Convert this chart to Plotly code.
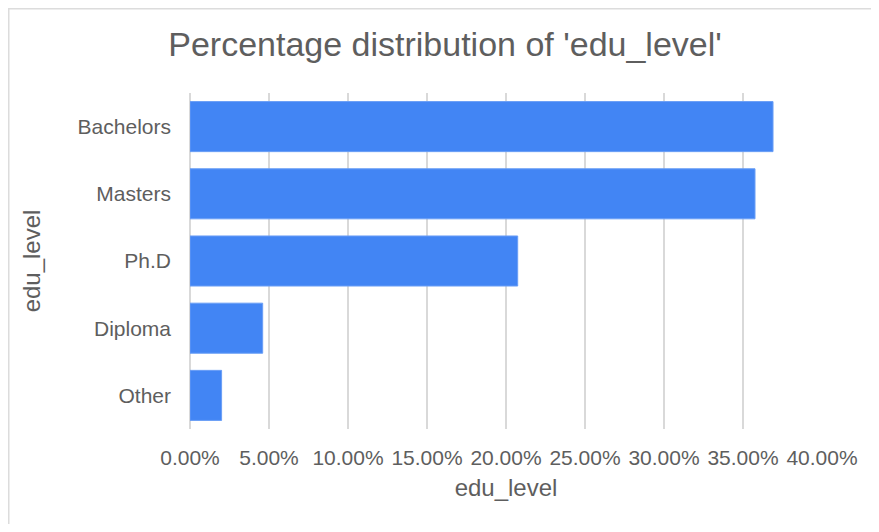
import plotly.graph_objects as go

categories = ["Bachelors", "Masters", "Ph.D", "Diploma", "Other"]
percentages = [0.369, 0.3576, 0.2074, 0.046, 0.020]
x_ticks = [0, 0.05, 0.10, 0.15, 0.20, 0.25, 0.30, 0.35, 0.40]

# page is offset by the browser's 8px body margin
OFF = 8
W, H = 879 - 2 * OFF, 532 - 2 * OFF
L, T = 190 - OFF, 93 - OFF
R = W - (822 - OFF)
B = H - (429 - OFF)
pw, ph = W - L - R, H - T - B

font_family = "Arial, Liberation Sans, sans-serif"
text_color = "#5e5e5e"

fig = go.Figure(
    go.Bar(
        x=percentages,
        y=categories,
        orientation="h",
        marker=dict(color="#4285F4", line=dict(color="#6a9ef6", width=1)),
        hoverinfo="x+y",
    )
)

fig.update_layout(
    width=W,
    height=H,
    margin=dict(l=L, r=R, t=T, b=B, pad=0),
    paper_bgcolor="white",
    plot_bgcolor="white",
    bargap=0.255,
    showlegend=False,
    font=dict(family=font_family, color=text_color, size=21),
    title=dict(
        text="Percentage distribution of 'edu_level'",
        x=(445 - OFF) / W,
        xanchor="center",
        y=1 - (44.5 - OFF) / H,
        yanchor="middle",
        font=dict(size=34, color=text_color, family=font_family),
    ),
    xaxis=dict(
        range=[0, 0.4],
        tickvals=x_ticks,
        tickformat=".2%",
        showgrid=True,
        gridcolor="#d9d9d9",
        gridwidth=1.5,
        zeroline=True,
        zerolinecolor="#d9d9d9",
        zerolinewidth=1.5,
        showline=False,
        ticks="",
        ticklabelstandoff=14,
        tickfont=dict(size=21, color=text_color),
        title=dict(text="edu_level", font=dict(size=24, color=text_color), standoff=11),
        fixedrange=True,
    ),
    yaxis=dict(
        autorange="reversed",
        showgrid=False,
        showline=False,
        ticks="",
        ticklabelstandoff=18,
        tickfont=dict(size=21, color=text_color),
        title=dict(text="edu_level", font=dict(size=24, color=text_color), standoff=30),
        fixedrange=True,
    ),
    shapes=[
        dict(
            type="rect",
            xref="paper",
            yref="paper",
            x0=(0.5 - L) / pw,
            x1=(W + 20 - L) / pw,
            y0=-(B + 20) / ph,
            y1=1 + (T - 0.5) / ph,
            line=dict(color="#dcdcdc", width=2),
            fillcolor="rgba(0,0,0,0)",
            layer="below",
        )
    ],
)

fig.write_html("out.html")
